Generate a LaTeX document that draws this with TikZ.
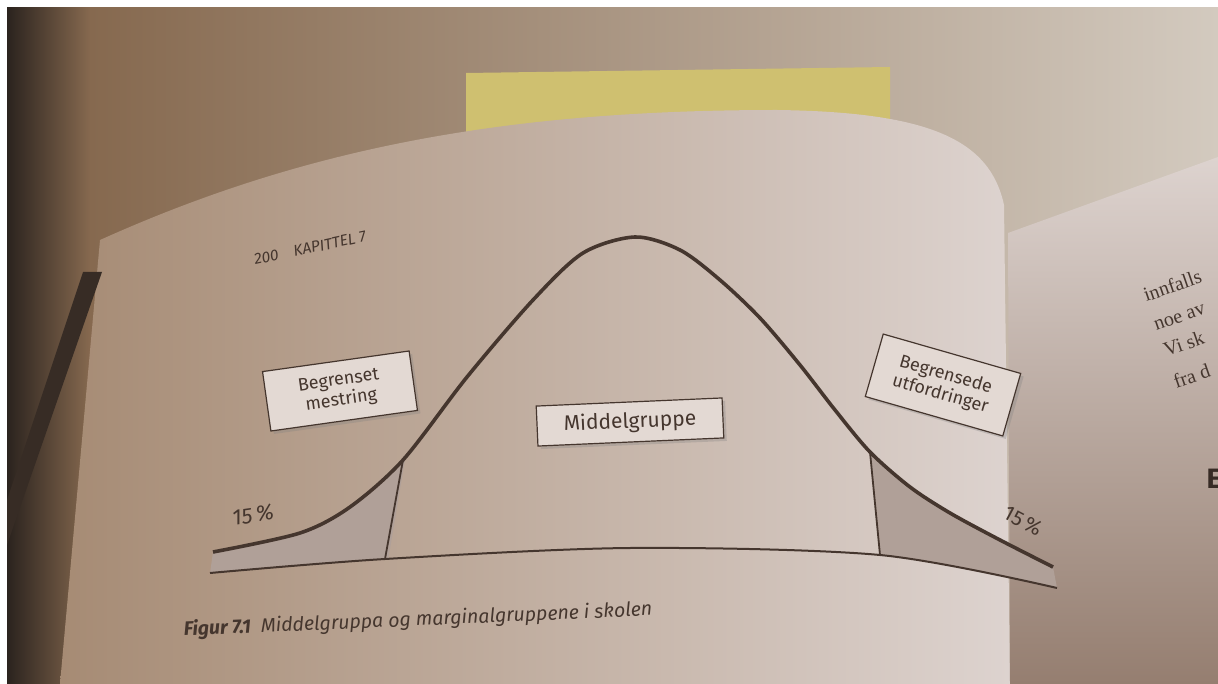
\documentclass[tikz,border=0pt]{standalone}
\usepackage{fontspec}
\setmainfont{Fira Sans}
\newfontfamily\pagefont{Liberation Serif}
\usetikzlibrary{shadows}
\definecolor{ink}{HTML}{45362E}
\definecolor{tail}{HTML}{B0A098}
\definecolor{boxfill}{HTML}{E3D9D3}
\definecolor{wallD}{HTML}{231D1A}
\definecolor{wallL}{HTML}{86694F}
\definecolor{wallM}{HTML}{A38A72}
\definecolor{wallR}{HTML}{D3CABF}
\definecolor{pageL}{HTML}{A68B74}
\definecolor{pageR}{HTML}{DDD3CF}
\definecolor{pageB}{HTML}{957E70}
\definecolor{note}{HTML}{CFC070}
\newcommand{\bellcurve}% the bell, left to right
{plot[smooth] coordinates {(213,552) (300,533) (350,507) (403,460) (467,377)
  (533,300) (583,253) (635,237) (680,250) (720,280) (760,318) (800,365)
  (835,410) (870,452) (910,487) (950,513) (1000,540) (1053,567)}
}
\tikzset{
  labelbox/.style={draw=ink, fill=boxfill, line width=1.2, align=center, text=ink,
    drop shadow={opacity=0.3, shadow xshift=3pt, shadow yshift=-3pt}},
  pct/.style={text=ink, font=\fontsize{21}{21}\selectfont},
  bookline/.style={text=ink, anchor=base west, rotate=19,
    font=\pagefont\fontsize{20}{20}\selectfont},
}

\begin{document}
\begin{tikzpicture}[x=1pt,y=-1pt]
  \useasboundingbox (0,0) rectangle (1218,684);
  \clip (0,0) rectangle (1218,684);
  % photo background
  \shade[left color=wallD, right color=wallL] (0,0) rectangle (90,684);
  \shade[left color=wallL, middle color=wallM, right color=wallR] (90,0) rectangle (1218,684);
  \fill[note] (466,73) -- (890,67) -- (890,125) -- (466,143) -- cycle;
  \shade[left color=pageL, right color=pageR] (60,684) -- (100,240)
    .. controls (300,150) and (500,110) .. (777,110)
    .. controls (930,112) and (990,140) .. (1004,205) -- (1010,684) -- cycle;
  \shade[top color=pageR, bottom color=pageB] (1008,233) -- (1218,157)
    -- (1218,684) -- (1010,684) -- cycle;
  \fill[wallD!80!wallL] (83,272) -- (102,272) -- (7,545) -- (7,500) -- cycle;
  \fill[white] (0,0) rectangle (1218,7);
  \fill[white] (0,0) rectangle (7,684);
  % points on the curve
  \coordinate (ltop) at (403,460);
  \coordinate (lbot) at (385,559);
  \coordinate (rtop) at (870,452);
  \coordinate (rbot) at (880,555);
  % shaded tails
  \begin{scope}
    \clip (0,300) -- (432,300) -- (378,620) -- (0,620) -- cycle;
    \fill[tail] \bellcurve -- plot[smooth] coordinates {(1057,588) (880,555) (630,548) (385,559) (210,573)} -- cycle;
  \end{scope}
  \begin{scope}
    \clip (855,300) -- (1218,300) -- (1218,620) -- (887,620) -- cycle;
    \fill[tail] \bellcurve -- plot[smooth] coordinates {(1057,588) (880,555) (630,548) (385,559) (210,573)} -- cycle;
  \end{scope}
  \draw[ink, line width=2] plot[smooth] coordinates {(1057,588) (880,555) (630,548) (385,559) (210,573)};
  \draw[ink, line width=1.8] (ltop) -- (lbot);
  \draw[ink, line width=1.8] (rtop) -- (rbot);
  \draw[ink, line width=3.6] \bellcurve;
  % labels
  \node[labelbox, rotate=8, minimum width=148, minimum height=60,
    font=\fontsize{18}{20}\selectfont] (mestring) at (340,391) {Begrenset\\mestring};
  \node[labelbox, rotate=2.5, minimum width=186, minimum height=40,
    font=\fontsize{21}{21}\selectfont] (middel) at (630,422) {Middelgruppe};
  \node[labelbox, rotate=-16, minimum width=143, minimum height=65,
    font=\fontsize{18}{20}\selectfont] (utford) at (943,385) {Begrensede\\utfordringer};
  \node[pct, rotate=8, font=\itshape\fontsize{22}{22}\selectfont] (pctl) at (253,515) {15\,\%};
  \node[pct, rotate=-28] (pctr) at (1023,521) {15\,\%};
  \node[rotate=12, text=ink, font=\itshape\fontsize{15.5}{15.5}\selectfont] (head) at (310,248)
    {200\quad KAPITTEL 7};
  \node[rotate=2.5, text=ink, font=\itshape\fontsize{19.5}{19.5}\selectfont] (caption) at (418,620)
    {\textbf{Figur 7.1}\enspace Middelgruppa og marginalgruppene i skolen};
  % facing page
  \node[bookline] (line1) at (1143,303) {innfalls};
  \node[bookline] (line2) at (1153,332) {noe av};
  \node[bookline] (line3) at (1163,358) {Vi sk};
  \node[bookline] (line4) at (1173,390) {fra d};
  \node[anchor=base west, text=ink!80!black, font=\bfseries\fontsize{28}{28}\selectfont]
    (head2) at (1203,488) {E};
\end{tikzpicture}
\end{document}
